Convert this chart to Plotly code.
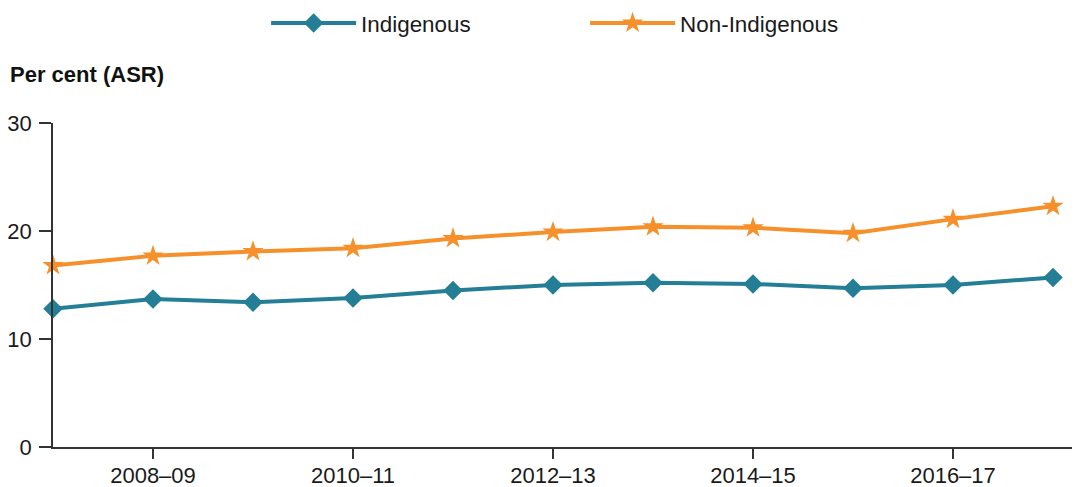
import plotly.graph_objects as go

years = ["2007–08", "2008–09", "2009–10", "2010–11", "2011–12", "2012–13",
         "2013–14", "2014–15", "2015–16", "2016–17", "2017–18"]
indigenous = [12.8, 13.7, 13.4, 13.8, 14.5, 15.0, 15.2, 15.1, 14.7, 15.0, 15.7]
non_indigenous = [16.8, 17.7, 18.1, 18.4, 19.3, 19.9, 20.4, 20.3, 19.8, 21.1, 22.3]
tick_labels = ["2008–09", "2010–11", "2012–13", "2014–15", "2016–17"]
y_ticks = [0, 10, 20, 30]

TEAL = "#237e96"
ORANGE = "#f6902b"
FONT = "Liberation Sans, Arial, sans-serif"
TXT = "#1a1a1a"

fig = go.Figure()
fig.add_trace(go.Scatter(
    x=years, y=indigenous, name="Indigenous", mode="lines+markers",
    line=dict(color=TEAL, width=4),
    marker=dict(symbol="diamond", size=15, color=TEAL),
    cliponaxis=False,
))
fig.add_trace(go.Scatter(
    x=years, y=non_indigenous, name="Non-Indigenous", mode="lines+markers",
    line=dict(color=ORANGE, width=4),
    marker=dict(symbol="star", size=16, color=ORANGE),
    cliponaxis=False,
))

fig.update_layout(
    width=1072, height=479,
    margin=dict(l=45, r=0, t=115, b=40, autoexpand=False),
    paper_bgcolor="white", plot_bgcolor="white",
    font=dict(family=FONT, size=22, color=TXT),
    showlegend=True,
    legend=dict(
        orientation="h", x=0.2075, xanchor="left",
        y=1.3735, yanchor="top",
        font=dict(size=22.4, color=TXT),
        itemwidth=85, entrywidth=219, entrywidthmode="pixels",
        bgcolor="rgba(0,0,0,0)",
    ),
    xaxis=dict(
        type="category", categoryorder="array", categoryarray=years,
        range=[0, 10.27],
        tickmode="array", tickvals=tick_labels, ticktext=tick_labels,
        ticks="outside", ticklen=10, tickwidth=1.5, tickcolor="#333",
        showline=True, linecolor="#333", linewidth=1.5,
        showgrid=False, zeroline=False,
        ticklabelstandoff=-2,
        tickfont=dict(size=22, color=TXT),
    ),
    yaxis=dict(
        range=[0, 30], tickvals=y_ticks,
        ticks="outside", ticklen=12, tickwidth=1.5, tickcolor="#333",
        showline=True, linecolor="#333", linewidth=1.5,
        showgrid=False, zeroline=False,
        ticklabelstandoff=3,
        tickfont=dict(size=22, color=TXT),
    ),
    annotations=[dict(
        text="<b>Per cent (ASR)</b>", xref="paper", yref="paper",
        x=0, y=1, xanchor="left", yanchor="middle",
        xshift=-45, yshift=49, showarrow=False,
        font=dict(size=22, color="#111"),
    )],
)

fig.write_html("out.html")
